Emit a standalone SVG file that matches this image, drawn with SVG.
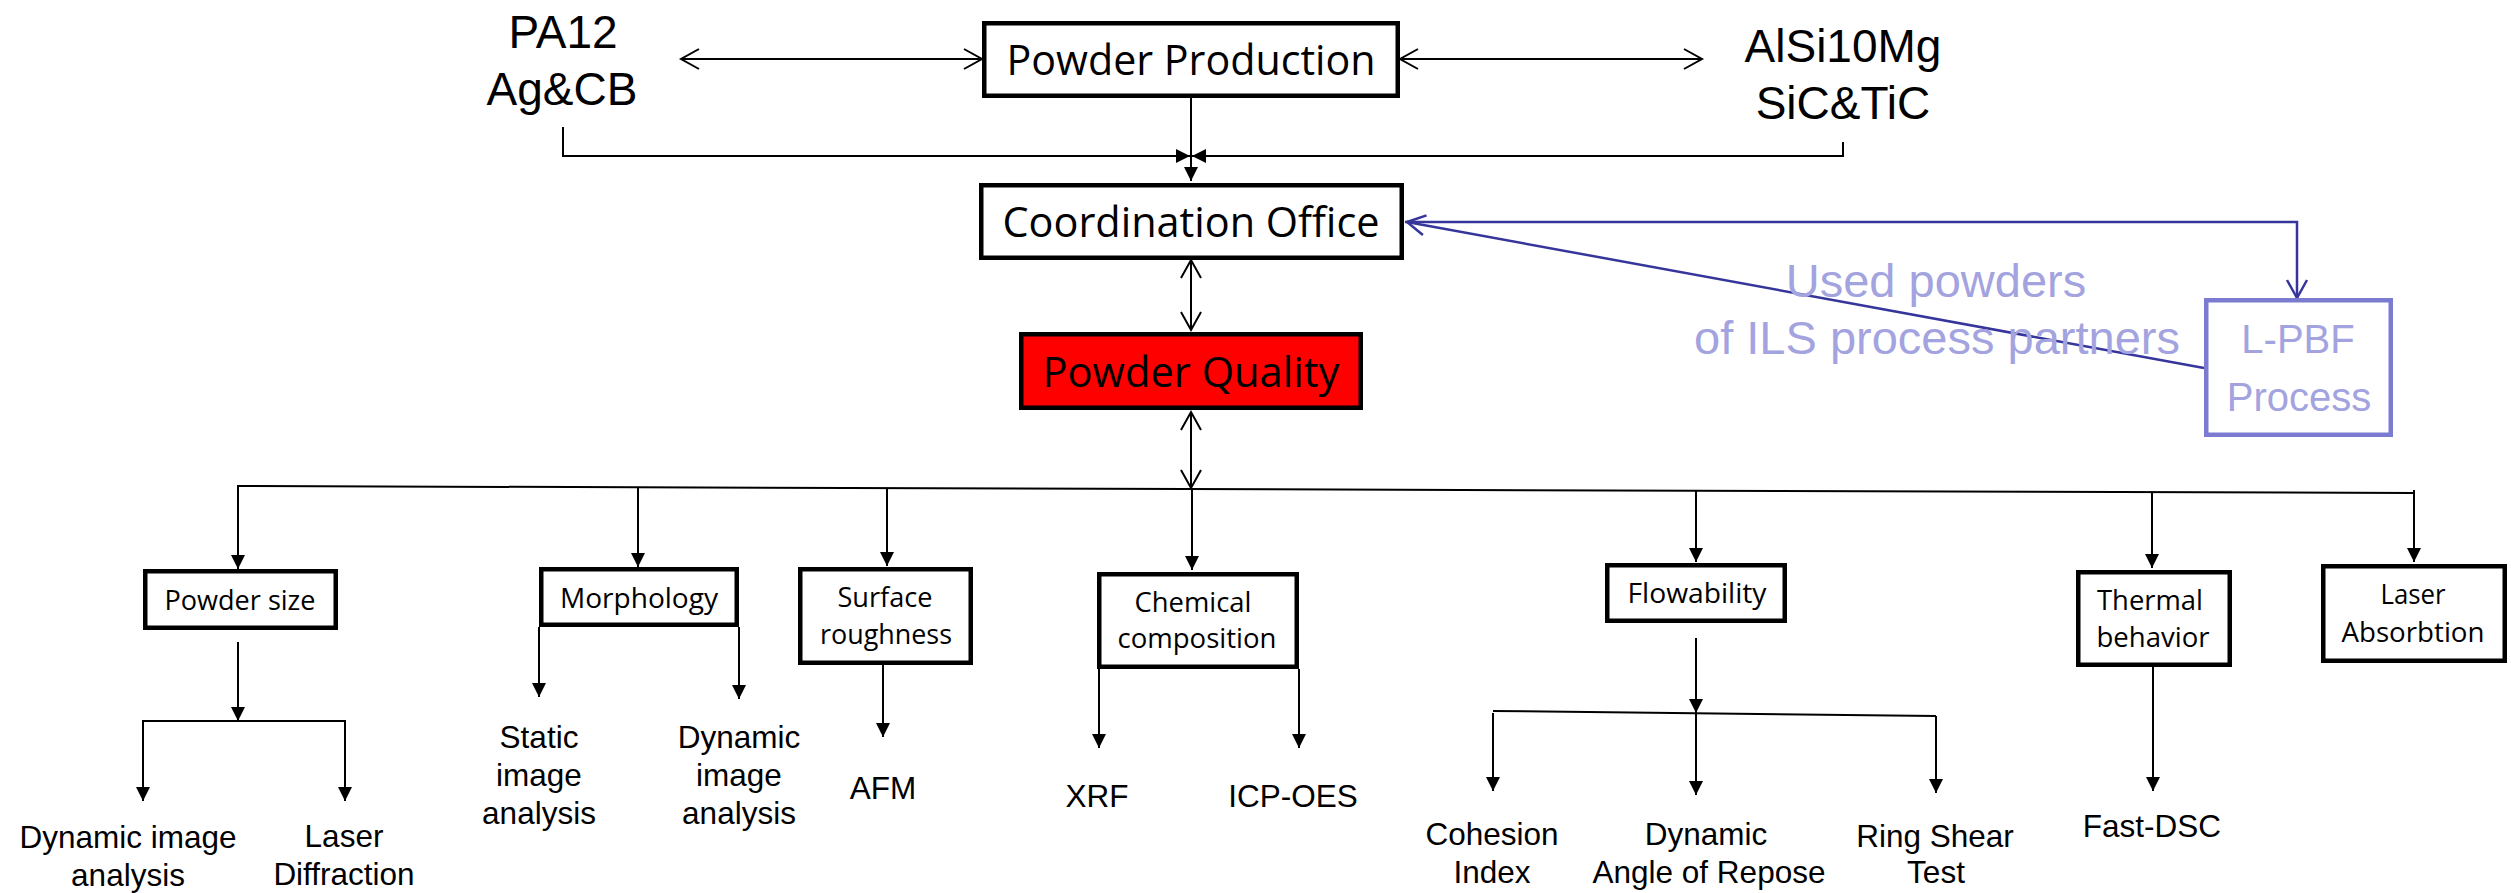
<svg xmlns="http://www.w3.org/2000/svg" width="2511" height="893" viewBox="0 0 2511 893">
  <style>
    .box { fill: #ffffff; stroke: #000000; stroke-width: 4.5; }
    .box-red { fill: #ff0000; stroke: #000000; stroke-width: 4.5; }
    .box-lpbf { fill: #ffffff; stroke: #7b7bd2; stroke-width: 4.5; }
    .lbl { font-family: "Open Sans", "Noto Sans", sans-serif; fill: #000000; text-anchor: middle; }
    .big { font-size: 42px; }
    .small { font-size: 28px; }
    .plain { font-family: "Liberation Sans", Arial, sans-serif; fill: #000000; text-anchor: middle; }
    .mat { font-size: 46px; }
    .leaf { font-size: 31.5px; }
    .pale { font-family: "Liberation Sans", Arial, sans-serif; fill: #a3a3e0; text-anchor: middle; }
    .wire { fill: none; stroke: #000000; stroke-width: 2; }
    .wire-blue { fill: none; stroke: #35359c; stroke-width: 2.5; }
  </style>
  <defs>
    <marker id="open" viewBox="-20 -12 22 24" markerWidth="22" markerHeight="24" refX="0" refY="0" markerUnits="userSpaceOnUse" orient="auto-start-reverse" overflow="visible">
      <path d="M-18,-10 L0,0 L-18,10" fill="none" stroke="#000000" stroke-width="2"/>
    </marker>
    <marker id="solid" viewBox="-16 -8 17 16" markerWidth="17" markerHeight="16" refX="0" refY="0" markerUnits="userSpaceOnUse" orient="auto-start-reverse" overflow="visible">
      <path d="M-14,-7 L0,0 L-14,7 Z" fill="#000000"/>
    </marker>
    <marker id="openBlue" viewBox="-20 -12 22 24" markerWidth="22" markerHeight="24" refX="0" refY="0" markerUnits="userSpaceOnUse" orient="auto-start-reverse" overflow="visible">
      <path d="M-18,-10 L0,0 L-18,10" fill="none" stroke="#35359c" stroke-width="2.5"/>
    </marker>
  </defs>

  <!-- connectors -->
  <g id="connectors">
    <!-- material pairs to powder production -->
    <line class="wire" x1="681" y1="59" x2="982" y2="59" marker-start="url(#open)" marker-end="url(#open)"/>
    <line class="wire" x1="1400" y1="59" x2="1702" y2="59" marker-start="url(#open)" marker-end="url(#open)"/>
    <!-- feeds into coordination office -->
    <polyline class="wire" points="563,127 563,156 1190,156" marker-end="url(#solid)"/>
    <polyline class="wire" points="1843,142 1843,156 1192,156" marker-end="url(#solid)"/>
    <line class="wire" x1="1191" y1="98" x2="1191" y2="181" marker-end="url(#solid)"/>
    <!-- coordination office <-> powder quality <-> test bus -->
    <line class="wire" x1="1191" y1="260" x2="1191" y2="330" marker-start="url(#open)" marker-end="url(#open)"/>
    <line class="wire" x1="1191" y1="412" x2="1191" y2="488" marker-start="url(#open)" marker-end="url(#open)"/>
    <!-- L-PBF loop -->
    <polyline class="wire-blue" points="1405,222 2297,222 2297,298" marker-end="url(#openBlue)"/>
    <line class="wire-blue" x1="2204" y1="368" x2="1407" y2="222" marker-end="url(#openBlue)"/>
    <!-- test bus -->
    <line class="wire" x1="237" y1="486" x2="2414" y2="493"/>
    <line class="wire" x1="238" y1="486" x2="238" y2="569" marker-end="url(#solid)"/>
    <line class="wire" x1="638" y1="487" x2="638" y2="567" marker-end="url(#solid)"/>
    <line class="wire" x1="887" y1="488" x2="887" y2="566" marker-end="url(#solid)"/>
    <line class="wire" x1="1192" y1="489" x2="1192" y2="570" marker-end="url(#solid)"/>
    <line class="wire" x1="1696" y1="491" x2="1696" y2="562" marker-end="url(#solid)"/>
    <line class="wire" x1="2152" y1="492" x2="2152" y2="568" marker-end="url(#solid)"/>
    <line class="wire" x1="2414" y1="490" x2="2414" y2="562" marker-end="url(#solid)"/>
    <!-- powder size methods -->
    <line class="wire" x1="238" y1="642" x2="238" y2="721" marker-end="url(#solid)"/>
    <line class="wire" x1="142" y1="721" x2="346" y2="721"/>
    <line class="wire" x1="143" y1="721" x2="143" y2="801" marker-end="url(#solid)"/>
    <line class="wire" x1="345" y1="721" x2="345" y2="801" marker-end="url(#solid)"/>
    <!-- morphology methods -->
    <line class="wire" x1="539" y1="627" x2="539" y2="697" marker-end="url(#solid)"/>
    <line class="wire" x1="739" y1="627" x2="739" y2="699" marker-end="url(#solid)"/>
    <!-- surface roughness -->
    <line class="wire" x1="883" y1="665" x2="883" y2="737" marker-end="url(#solid)"/>
    <!-- chemical composition -->
    <line class="wire" x1="1099" y1="669" x2="1099" y2="748" marker-end="url(#solid)"/>
    <line class="wire" x1="1299" y1="669" x2="1299" y2="748" marker-end="url(#solid)"/>
    <!-- flowability methods -->
    <line class="wire" x1="1696" y1="638" x2="1696" y2="713" marker-end="url(#solid)"/>
    <line class="wire" x1="1493" y1="711" x2="1936" y2="716"/>
    <line class="wire" x1="1493" y1="713" x2="1493" y2="791" marker-end="url(#solid)"/>
    <line class="wire" x1="1696" y1="713" x2="1696" y2="795" marker-end="url(#solid)"/>
    <line class="wire" x1="1936" y1="716" x2="1936" y2="793" marker-end="url(#solid)"/>
    <!-- thermal behavior -->
    <line class="wire" x1="2153" y1="667" x2="2153" y2="791" marker-end="url(#solid)"/>
  </g>

  <!-- material labels -->
  <g id="pa12">
    <text class="plain mat" x="563" y="48">PA12</text>
    <text class="plain mat" x="562" y="105">Ag&amp;CB</text>
  </g>
  <g id="alsi10mg">
    <text class="plain mat" x="1843" y="62">AlSi10Mg</text>
    <text class="plain mat" x="1843" y="119">SiC&amp;TiC</text>
  </g>

  <!-- central chain -->
  <g id="powder-production">
    <rect class="box" x="984.25" y="23.25" width="413.5" height="72.5"/>
    <text class="lbl big" x="1191" y="75" textLength="369" lengthAdjust="spacingAndGlyphs">Powder Production</text>
  </g>
  <g id="coordination-office">
    <rect class="box" x="981.25" y="185.25" width="420.5" height="72.5"/>
    <text class="lbl big" x="1191" y="237" textLength="377" lengthAdjust="spacingAndGlyphs">Coordination Office</text>
  </g>
  <g id="powder-quality">
    <rect class="box-red" x="1021.25" y="334.25" width="339.5" height="73.5"/>
    <text class="lbl big" x="1191" y="387" textLength="297" lengthAdjust="spacingAndGlyphs">Powder Quality</text>
  </g>

  <!-- process partners -->
  <g id="used-powders">
    <text class="pale" font-size="47" x="1936" y="297">Used powders</text>
    <text class="pale" font-size="47" x="1937" y="354">of ILS process partners</text>
  </g>
  <g id="lpbf-process">
    <rect class="box-lpbf" x="2206.25" y="300.25" width="184.5" height="134.5"/>
    <text class="pale" font-size="40" x="2298" y="353">L-PBF</text>
    <text class="pale" font-size="40" x="2299" y="411">Process</text>
  </g>

  <!-- property boxes -->
  <g id="powder-size">
    <rect class="box" x="145.25" y="571.25" width="190.5" height="56.5"/>
    <text class="lbl small" x="240" y="610" textLength="151" lengthAdjust="spacingAndGlyphs">Powder size</text>
  </g>
  <g id="morphology">
    <rect class="box" x="541.25" y="569.25" width="195.5" height="55.5"/>
    <text class="lbl small" x="639" y="608" textLength="158" lengthAdjust="spacingAndGlyphs">Morphology</text>
  </g>
  <g id="surface-roughness">
    <rect class="box" x="800.25" y="569.25" width="170.5" height="93.5"/>
    <text class="lbl small" x="885" y="607" textLength="95" lengthAdjust="spacingAndGlyphs">Surface</text>
    <text class="lbl small" x="886" y="644" textLength="132" lengthAdjust="spacingAndGlyphs">roughness</text>
  </g>
  <g id="chemical-composition">
    <rect class="box" x="1099.25" y="574.25" width="197.5" height="92.5"/>
    <text class="lbl small" x="1193" y="612" textLength="117" lengthAdjust="spacingAndGlyphs">Chemical</text>
    <text class="lbl small" x="1197" y="648" textLength="159" lengthAdjust="spacingAndGlyphs">composition</text>
  </g>
  <g id="flowability">
    <rect class="box" x="1607.25" y="565.25" width="177.5" height="55.5"/>
    <text class="lbl small" x="1697" y="603" textLength="139" lengthAdjust="spacingAndGlyphs">Flowability</text>
  </g>
  <g id="thermal-behavior">
    <rect class="box" x="2078.25" y="572.25" width="151.5" height="92.5"/>
    <text class="lbl small" x="2150" y="610" textLength="106" lengthAdjust="spacingAndGlyphs">Thermal</text>
    <text class="lbl small" x="2153" y="647" textLength="113" lengthAdjust="spacingAndGlyphs">behavior</text>
  </g>
  <g id="laser-absorbtion">
    <rect class="box" x="2323.25" y="566.25" width="181.5" height="94.5"/>
    <text class="lbl small" x="2413" y="604" textLength="65" lengthAdjust="spacingAndGlyphs">Laser</text>
    <text class="lbl small" x="2413" y="642" textLength="143" lengthAdjust="spacingAndGlyphs">Absorbtion</text>
  </g>

  <!-- measurement methods -->
  <g id="dynamic-image-analysis-size">
    <text class="plain leaf" x="128" y="848">Dynamic image</text>
    <text class="plain leaf" x="128" y="886">analysis</text>
  </g>
  <g id="laser-diffraction">
    <text class="plain leaf" x="344" y="847">Laser</text>
    <text class="plain leaf" x="344" y="885">Diffraction</text>
  </g>
  <g id="static-image-analysis">
    <text class="plain leaf" x="539" y="748">Static</text>
    <text class="plain leaf" x="539" y="786">image</text>
    <text class="plain leaf" x="539" y="824">analysis</text>
  </g>
  <g id="dynamic-image-analysis-shape">
    <text class="plain leaf" x="739" y="748">Dynamic</text>
    <text class="plain leaf" x="739" y="786">image</text>
    <text class="plain leaf" x="739" y="824">analysis</text>
  </g>
  <g id="afm">
    <text class="plain leaf" x="883" y="799">AFM</text>
  </g>
  <g id="xrf">
    <text class="plain leaf" x="1097" y="807">XRF</text>
  </g>
  <g id="icp-oes">
    <text class="plain leaf" x="1293" y="807">ICP-OES</text>
  </g>
  <g id="cohesion-index">
    <text class="plain leaf" x="1492" y="845">Cohesion</text>
    <text class="plain leaf" x="1492" y="883">Index</text>
  </g>
  <g id="dynamic-angle-of-repose">
    <text class="plain leaf" x="1706" y="845">Dynamic</text>
    <text class="plain leaf" x="1709" y="883">Angle of Repose</text>
  </g>
  <g id="ring-shear-test">
    <text class="plain leaf" x="1935" y="847">Ring Shear</text>
    <text class="plain leaf" x="1936" y="883">Test</text>
  </g>
  <g id="fast-dsc">
    <text class="plain leaf" x="2152" y="837">Fast-DSC</text>
  </g>
</svg>
